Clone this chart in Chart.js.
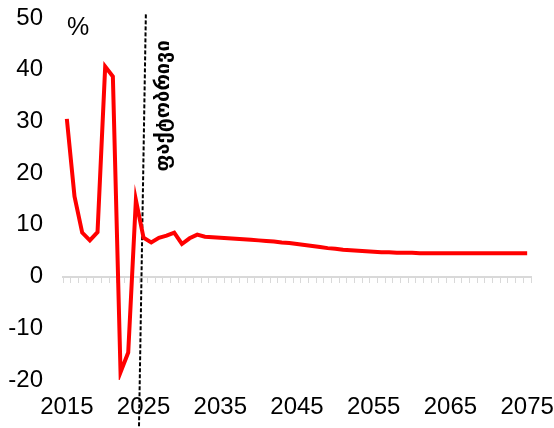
<!DOCTYPE html>
<html>
<head>
<meta charset="utf-8">
<script src="https://cdn.jsdelivr.net/npm/chart.js@4/dist/chart.umd.min.js"></script>
<style>
    html, body { margin: 0; padding: 0; background: #fff; }
    #wrap { width: 554px; height: 428px; position: relative; }
</style>
</head>
<body>
<div id="wrap"><canvas id="chart"></canvas></div>
<script>
/* ===================== DATA ===================== */

const years = [
    2015, 2016, 2017, 2018, 2019, 2020, 2021, 2022, 2023, 2024,
    2025, 2026, 2027, 2028, 2029, 2030, 2031, 2032, 2033, 2034,
    2035, 2036, 2037, 2038, 2039, 2040, 2041, 2042, 2043, 2044,
    2045, 2046, 2047, 2048, 2049, 2050, 2051, 2052, 2053, 2054,
    2055, 2056, 2057, 2058, 2059, 2060, 2061, 2062, 2063, 2064,
    2065, 2066, 2067, 2068, 2069, 2070, 2071, 2072, 2073, 2074,
    2075,
];

const growth = [
    30.5, 15.5, 8.5, 7.0, 8.6, 40.6, 38.7, -18.5, -14.7, 14.8,
    7.5, 6.6, 7.5, 7.9, 8.5, 6.3, 7.4, 8.1, 7.7, 7.6,
    7.5, 7.4, 7.3, 7.2, 7.1, 7.0, 6.9, 6.8, 6.6, 6.5,
    6.3, 6.1, 5.9, 5.7, 5.5, 5.4, 5.2, 5.1, 5.0, 4.9,
    4.8, 4.7, 4.7, 4.6, 4.6, 4.6, 4.5, 4.5, 4.5, 4.5,
    4.5, 4.5, 4.5, 4.5, 4.5, 4.5, 4.5, 4.5, 4.5, 4.5,
    4.5,
];

const xTickYears = [2015, 2025, 2035, 2045, 2055, 2065, 2075];

// dashed "actual" divider (slightly slanted in the original)
const factLine = [
    { x: 2025.3, y: 50.7 },
    { x: 2024.4, y: -29.5 },
];

const factLabel = "ფაქტობრივი";
const unitLabel = "%";

/* ===================== PLUGINS ===================== */

const labelsPlugin = {
    id: "labels",
    afterDatasetsDraw(chart) {
        const { ctx, scales } = chart;
        ctx.save();
        ctx.fillStyle = "#000";

        // unit
        ctx.font = "25px 'Liberation Sans', Arial, sans-serif";
        ctx.textAlign = "center";
        ctx.textBaseline = "middle";
        ctx.fillText(unitLabel, 78, 28);

        // rotated label next to divider
        const px = scales.x.getPixelForValue(2027.6);
        const py = scales.y.getPixelForValue(33);
        ctx.translate(px, py);
        ctx.rotate(-Math.PI / 2);
        ctx.font = "bold 20px 'DejaVu Sans', sans-serif";
        ctx.fillText(factLabel, 0, 0);
        ctx.restore();
    },
};

/* ===================== CHART ===================== */

const font = { family: "'Liberation Sans', Arial, sans-serif", size: 24 };

const noPad = s => {
    s.paddingLeft = 0;
    s.paddingRight = 0;
    s.paddingTop = 0;
    s.paddingBottom = 0;
};

new Chart(document.getElementById("chart"), {
    type: "line",
    data: {
        datasets: [
            {
                label: "growth",
                data: years.map((y, i) => ({ x: y, y: growth[i] })),
                borderColor: "#ff0000",
                borderWidth: 4,
                pointRadius: 0,
                tension: 0,
                xAxisID: "x",
            },
            {
                label: "fact",
                data: factLine,
                borderColor: "#000",
                borderWidth: 2,
                borderDash: [4, 2],
                pointRadius: 0,
                clip: false,
                xAxisID: "x",
            },
        ],
    },
    options: {
        responsive: true,
        maintainAspectRatio: false,
        animation: false,
        devicePixelRatio: 1,
        layout: { padding: { top: 18, right: 23, left: 0, bottom: 0 } },
        plugins: {
            legend: { display: false },
            tooltip: { enabled: false },
        },
        scales: {
            x: {
                type: "linear",
                position: "bottom",
                min: 2014.5,
                max: 2075.5,
                afterBuildTicks: s => { s.ticks = xTickYears.map(v => ({ value: v })); },
                afterFit: s => { s.height = 48; noPad(s); },
                grid: { display: false, drawTicks: false },
                border: { display: false },
                ticks: {
                    font,
                    color: "#000",
                    padding: 13,
                    maxRotation: 0,
                    autoSkip: false,
                    callback: v => String(v),
                },
            },
            x0: {
                type: "linear",
                position: { y: 0 },
                min: 2014.5,
                max: 2075.5,
                afterBuildTicks: s => {
                    s.ticks = years.concat([2076]).map(v => ({ value: v - 0.5 }));
                },
                afterFit: noPad,
                grid: {
                    drawOnChartArea: false,
                    drawTicks: true,
                    tickLength: 5,
                    tickWidth: 1,
                    tickColor: "#d9d9d9",
                },
                border: { color: "#d9d9d9", width: 2 },
                ticks: { display: false },
            },
            y: {
                min: -20,
                max: 50,
                afterFit: s => { s.width = 63; noPad(s); },
                grid: { display: false, drawTicks: false },
                border: { display: false },
                ticks: {
                    stepSize: 10,
                    font,
                    color: "#000",
                    padding: 20,
                },
            },
        },
    },
    plugins: [labelsPlugin],
});
</script>
</body>
</html>
